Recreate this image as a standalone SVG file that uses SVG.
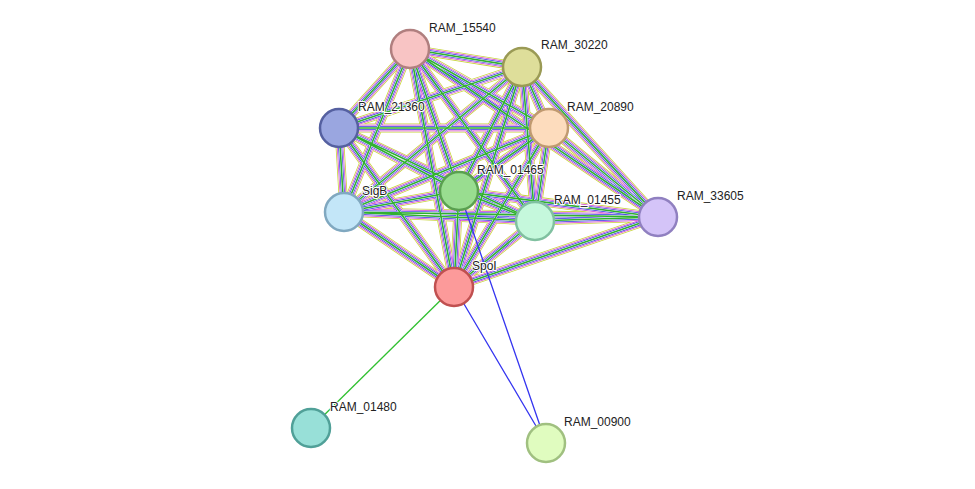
<svg xmlns="http://www.w3.org/2000/svg" xmlns:xlink="http://www.w3.org/1999/xlink" width="975" height="489" viewBox="0 0 975 489">
<style>
.n{stroke-width:2.5}
text{font-family:"Liberation Sans",Arial,sans-serif;font-size:12px;fill:#222;paint-order:stroke;stroke:#fff;stroke-width:2px}
</style>
<rect width="975" height="489" fill="#fff"/>
<defs>
<g id="E" fill="none">
<path d="M410,49L522,67M410,49L339,128M410,49L549,128M410,49L459,191M410,49L344,212M410,49L535,221M410,49L658,217M410,49L454,287"/>
<path d="M522,67L339,128M522,67L549,128M522,67L459,191M522,67L344,212M522,67L535,221M522,67L658,217M522,67L454,287"/>
<path d="M339,128L549,128M339,128L459,191M339,128L344,212M339,128L535,221M339,128L454,287"/>
<path d="M549,128L459,191M549,128L344,212M549,128L535,221M549,128L658,217M549,128L454,287"/>
<path d="M459,191L344,212M459,191L535,221M459,191L658,217M459,191L454,287"/>
<path d="M344,212L535,221M344,212L658,217M344,212L454,287"/>
<path d="M535,221L658,217M535,221L454,287M658,217L454,287"/>
</g>
</defs>
<g id="connectors">
<use xlink:href="#E" stroke="#c8d43c" stroke-width="9"/>
<use xlink:href="#E" stroke="#fff" stroke-width="7.4"/>
<use xlink:href="#E" stroke="#d040d0" stroke-width="6.4"/>
<use xlink:href="#E" stroke="#fff" stroke-width="5"/>
<use xlink:href="#E" stroke="#3535e0" stroke-width="4"/>
<use xlink:href="#E" stroke="#fff" stroke-width="2.6"/>
<use xlink:href="#E" stroke="#30b030" stroke-width="1.6"/>
<path d="M454,287L311,428" stroke="#30c030" stroke-width="1.3"/>
<path d="M454,287L546,443M459,191L546,443" stroke="#3535f0" stroke-width="1.3"/>
</g>
<g id="RAM_15540"><circle class="n" cx="410" cy="49" r="19" fill="#f8c4c4" stroke="#b07f7f"/><text x="429" y="32">RAM_15540</text></g>
<g id="RAM_30220"><circle class="n" cx="522" cy="67" r="19" fill="#dede9a" stroke="#9a9a55"/><text x="541" y="49">RAM_30220</text></g>
<g id="RAM_21360"><circle class="n" cx="339" cy="128" r="19" fill="#9aa6e0" stroke="#5560a0"/><text x="358" y="111">RAM_21360</text></g>
<g id="RAM_20890"><circle class="n" cx="549" cy="128" r="19" fill="#fddcbd" stroke="#c09a70"/><text x="567" y="111">RAM_20890</text></g>
<g id="RAM_01465"><circle class="n" cx="459" cy="191" r="19" fill="#99dd90" stroke="#5aa050"/><text x="477" y="174">RAM_01465</text></g>
<g id="SigB"><circle class="n" cx="344" cy="212" r="19" fill="#c3e6f8" stroke="#80a8c0"/><text x="362" y="195">SigB</text></g>
<g id="RAM_01455"><circle class="n" cx="535" cy="221" r="19" fill="#c5f8dc" stroke="#80c0a0"/><text x="554" y="204">RAM_01455</text></g>
<g id="RAM_33605"><circle class="n" cx="658" cy="217" r="19" fill="#d4c4f8" stroke="#9080c0"/><text x="677" y="200">RAM_33605</text></g>
<g id="SpoI"><circle class="n" cx="454" cy="287" r="19" fill="#fc9a9a" stroke="#c05050"/><text x="472" y="270">SpoI</text></g>
<g id="RAM_01480"><circle class="n" cx="311" cy="428" r="19" fill="#98e0d8" stroke="#50a098"/><text x="330" y="411">RAM_01480</text></g>
<g id="RAM_00900"><circle class="n" cx="546" cy="443" r="19" fill="#e0fcbf" stroke="#a0c080"/><text x="564" y="426">RAM_00900</text></g>
</svg>
